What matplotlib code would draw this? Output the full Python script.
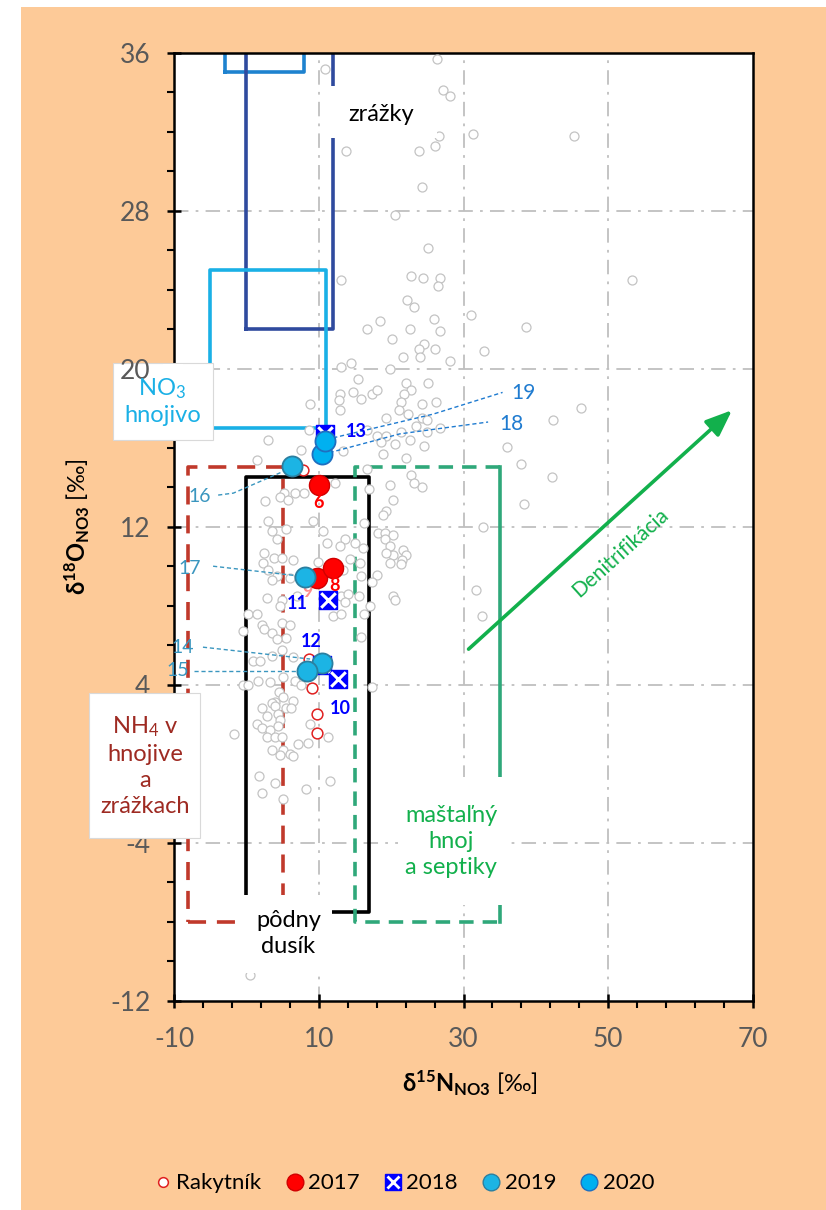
import matplotlib
matplotlib.use("Agg")
import matplotlib.pyplot as plt
from matplotlib.patches import Rectangle
from matplotlib.lines import Line2D
from matplotlib.ticker import FixedLocator, MultipleLocator

plt.rcParams['font.family'] = ['Lato', 'DejaVu Sans']
plt.rcParams['mathtext.fontset'] = 'custom'
plt.rcParams['mathtext.rm'] = 'Lato'
plt.rcParams['mathtext.bf'] = 'Lato:bold'
plt.rcParams['mathtext.it'] = 'Lato:italic'
plt.rcParams['mathtext.fallback'] = 'stixsans'
plt.rcParams['axes.unicode_minus'] = False

# --- literature data (grey open circles) ---
lit_x = [10.9, 26.3, 27.1, 28.1, 13.7, 23.9, 26.1, 26.6, 31.3, 45.2, 24.2, 20.5, 25.1,
         13.1, 22.8, 24.4, 26.7, 26.5, 53.3, 22.2, 23.2, 31.0, 25.9, 18.4, 16.6, 22.6,
         26.8, 38.6, 20.1, 24.5, 23.9, 26.0, 21.6, 24.0, 32.9, 28.1, 14.4, 13.1, 19.8,
         15.4, 22.1, 25.1, 22.8, 21.8, 14.7, 12.9, 12.8, 17.3, 18.0, 15.9, 21.4, 24.2,
         26.2, 8.8, 12.9, 21.1, 22.3, 24.2, 19.3, 24.9, 23.5, 26.7, 16.6, 18.0, 19.3,
         21.4, 25.0, 8.7, 3.0, 18.6, 22.6, 20.5, 24.6, 18.9, 7.6, 13.4, 1.4, 22.0,
         36.0, 38.0, 16.6, 22.8, 24.2, 23.2, 19.9, 16.9, 12.3, 5.2, 6.7, 7.9, 4.6,
         2.6, 5.8, 20.2, 38.4, 19.3, 18.9, 3.0, 9.2, 16.3, 32.7, 3.5, 5.5, 4.2,
         10.6, 13.6, 15.0, 18.2, 19.2, 20.2, 19.1, 11.2, 12.9, 16.1, 19.8, 21.6, 20.2,
         22.1, 19.3, 2.4, 3.8, 4.9, 6.4, 9.9, 14.3, 15.7, 13.3, 21.5, 21.4, 19.8,
         2.3, 3.0, 4.2, 3.5, 6.0, 15.9, 18.0, 17.4, 31.75, 2.8, 4.9, 4.6, 7.0,
         13.1, 14.0, 15.6, 13.6, 17.1, 20.3, 20.5, 32.6, 0.25, 1.4, 16.3, 12.0, 13.1,
         46.2, 42.4, 42.2,
         -0.4, 2.1, 2.4, 3.6, 4.9, 6.0, 5.5, 4.2, 15.8, 0.9, 1.9, 3.5, 4.9, 6.5,
         1.6, -0.4, 0.25, 3.3, 5.1, 6.7, 7.6, 4.5, 5.1, 6.5, 3.9, 3.5, 2.1, 3.9,
         5.5, 6.2, 4.4, 2.8, 4.6, 1.4, 2.1, 3.2, 4.4, 8.8, -1.7, 2.8, 3.9, 4.9,
         11.3, 7.1, 8.5, 3.5, 5.1, 6.0, 4.6, 6.5, 1.7, 3.9, 11.6, 8.2, 2.1, 5.0,
         17.3, 0.5]
lit_y = [35.2, 35.7, 34.1, 33.8, 31.0, 31.0, 31.3, 31.8, 31.9, 31.8, 29.2, 27.8, 26.1,
         24.5, 24.7, 24.6, 24.6, 24.2, 24.5, 23.5, 23.1, 22.7, 22.5, 22.4, 22.0, 22.0,
         21.9, 22.1, 21.5, 21.25, 21.0, 21.0, 20.6, 20.6, 20.9, 20.4, 20.3, 20.1, 20.0,
         19.5, 19.3, 19.3, 18.9, 18.7, 18.8, 18.7, 18.4, 18.7, 18.9, 18.45, 18.3, 18.2,
         18.3, 18.2, 17.9, 17.9, 17.7, 17.5, 17.5, 17.4, 17.1, 17.0, 16.9, 16.6, 16.6,
         16.8, 16.8, 16.9, 16.4, 16.3, 16.4, 16.2, 16.1, 15.7, 15.9, 15.85, 15.4, 15.5,
         16.05, 15.2, 14.9, 14.6, 14.0, 14.2, 14.1, 13.9, 14.2, 13.7, 13.7, 13.7, 13.5,
         13.3, 13.35, 13.35, 13.15, 12.8, 12.6, 12.3, 12.3, 12.2, 12.0, 11.8, 11.9, 11.4,
         11.8, 11.4, 11.2, 11.7, 11.7, 11.6, 11.4, 11.2, 11.0, 10.9, 11.0, 10.8, 10.55,
         10.55, 10.65, 10.65, 10.4, 10.4, 10.3, 10.2, 10.35, 10.15, 9.8, 10.3, 10.1, 10.15,
         10.15, 9.8, 9.5, 9.3, 9.4, 9.5, 9.55, 9.2, 8.8, 8.4, 8.3, 8.0, 8.5,
         8.5, 8.6, 8.5, 8.2, 8.0, 8.5, 8.3, 7.5, 7.6, 7.6, 7.6, 7.5, 7.6,
         18.0, 17.4, 14.5,
         6.7, 7.0, 6.8, 6.6, 7.1, 7.0, 6.35, 6.3, 6.4, 5.2, 5.2, 5.45, 5.75, 5.4,
         4.2, 4.0, 4.0, 4.15, 4.4, 4.2, 4.0, 3.65, 3.4, 3.2, 3.1, 3.05, 2.8, 2.9,
         2.8, 2.8, 2.5, 2.4, 2.2, 2.0, 1.8, 1.7, 1.9, 2.0, 1.5, 1.35, 1.35, 1.35,
         1.35, 1.0, 1.05, 0.7, 0.7, 0.5, 0.45, 0.4, -0.6, -1.0, -0.9, -1.3, -1.5, -1.8,
         3.9, -10.7]

# --- Rakytník samples ---
rak_x = [7.8, 8.7, 9.1, 9.7, 9.7]
rak_y = [14.87, 5.3, 3.85, 2.5, 1.55]

y2017_x = [10.1, 9.8, 11.9]
y2017_y = [14.1, 9.4, 9.9]
y2017_lab = ['6', '', '8']
y2017_lab_x = [10.0, 9.8, 12.2]
y2017_lab_y = [13.2, 9.4, 9.0]

y2018_x = [12.7, 11.3, 10.5, 10.8]
y2018_y = [4.3, 8.3, 5.0, 16.7]
y2018_lab = ['10', '11', '12', '13']
y2018_lab_x = [13.0, 7.1, 9.0, 15.2]
y2018_lab_y = [2.8, 8.1, 6.2, 16.8]

y2019_x = [10.5, 8.4, 6.3, 8.07]
y2019_y = [5.1, 4.7, 15.07, 9.44]
y2019_lab = ['14', '15', '16', '17']
y2019_lab_x = [-8.75, -9.5, -6.45, -7.8]
y2019_lab_y = [5.9, 4.7, 13.55, 9.9]
y2019_lead_x = [[-6.0, 8.8], [-7.3, 7.4], [-3.9, -1.8, 5.1], [-4.6, 7.4]]
y2019_lead_y = [[5.9, 5.3], [4.7, 4.7], [13.6, 13.7, 14.8], [10.0, 9.5]]

y2020_x = [10.4, 10.8]
y2020_y = [15.67, 16.35]
y2020_lab = ['18', '19']
y2020_lab_x = [36.6, 38.3]
y2020_lab_y = [17.2, 18.75]
y2020_lead_x = [[11.5, 21.2, 33.4], [12.0, 25.8, 35.4]]
y2020_lead_y = [[15.75, 16.7, 17.3], [16.5, 17.7, 18.8]]

x_ticks = [-10, 10, 30, 50, 70]
y_ticks = [-12, -4, 4, 12, 20, 28, 36]

# source areas (x0, x1, y0, y1)
rain_box = (0, 12, 22, 37)
rain_box2 = (-3, 8, 35, 37)
no3_box = (-5, 11, 17, 25)
nh4_box = (-8, 5, -8, 15)
soil_box = (0, 17, -7.5, 14.5)
manure_box = (15, 35, -8, 15)
denit = ((30.7, 5.8), (67.1, 17.9))

PEACH = '#FDCA98'
GREY = '#C3C3C3'
RED = '#FF0000'
BLUE = '#0000FF'
TEAL = '#3A96BF'
BLUE2 = '#1F7BD0'
GREEN = '#12B04C'
GREEN2 = '#2FA87A'
DRED = '#C0392B'

fig = plt.figure(figsize=(8.26, 12.10), dpi=100)
fig.patches.append(Rectangle((21 / 826, 0), 1 - 21 / 826, 1 - 7 / 1210,
                             transform=fig.transFigure, facecolor=PEACH,
                             edgecolor='none', zorder=-10))
ax = fig.add_axes([174 / 826, 1 - 1000.7 / 1210, 579 / 826, 948 / 1210])
ax.set_facecolor('white')
ax.set_xlim(-10, 70)
ax.set_ylim(-12, 36)

ax.xaxis.set_major_locator(FixedLocator(x_ticks))
ax.xaxis.set_minor_locator(FixedLocator(list(range(-10, 71, 4))))
ax.yaxis.set_major_locator(FixedLocator(y_ticks))
ax.yaxis.set_minor_locator(MultipleLocator(2))
ax.tick_params(which='major', direction='inout', length=10, width=1.8,
               labelsize=19, labelcolor='#595959')
ax.tick_params(axis='x', which='major', pad=14)
ax.tick_params(axis='y', which='major', pad=12)
ax.tick_params(which='minor', direction='out', length=5, width=1.5)
for s in ax.spines.values():
    s.set_linewidth(1.8)
ax.yaxis.set_zorder(2.7)

# dash-dot grid
grid_ls = (0, (8, 4, 1.5, 4))
for v in x_ticks[1:-1]:
    ax.axvline(v, color='#BFBFBF', lw=1.3, ls=grid_ls, zorder=0.6)
for v in y_ticks[1:-1]:
    ax.axhline(v, color='#BFBFBF', lw=1.3, ls=grid_ls, zorder=0.6)


def box(b, color, ls='-', solid_right=False):
    x0, x1, y0, y1 = b
    if solid_right:
        ax.plot([x1, x0, x0, x1], [y1, y1, y0, y0], color=color, lw=2.6, ls=ls, zorder=2)
        ax.plot([x1, x1], [y0, y1], color=color, lw=2.6, zorder=2)
    else:
        ax.plot([x0, x1, x1, x0, x0], [y0, y0, y1, y1, y0], color=color, lw=2.6,
                ls=ls, zorder=2)


box(rain_box2, '#1E82CF')
box(rain_box, '#2F4A9E')
box(no3_box, '#1AB0E6')
box(nh4_box, DRED, ls=(0, (5, 3)))
box(soil_box, 'black')
box(manure_box, GREEN2, ls=(0, (4, 2.5)), solid_right=True)

ax.annotate('', xy=denit[1], xytext=denit[0],
            arrowprops=dict(arrowstyle='-|>,head_length=0.8,head_width=0.32',
                            color=GREEN, lw=2.6, shrinkA=0, shrinkB=0,
                            mutation_scale=20), zorder=3)
ax.text(51.7, 10.7, 'Denitrifikácia', color=GREEN, fontsize=15, rotation=42,
        rotation_mode='anchor', ha='center', va='center', zorder=3)


def label_box(x0, x1, y0, y1, edge='none', z=6):
    ax.add_patch(Rectangle((x0, y0), x1 - x0, y1 - y0, facecolor='white',
                           edgecolor=edge, lw=0.8, zorder=z, clip_on=False))


label_box(11.5, 26.4, 31.7, 34.3)
ax.text(18.6, 32.85, 'zrážky', fontsize=17, ha='center', va='center', zorder=7)
label_box(-18.4, -4.6, 16.4, 20.3, edge='#D9D9D9', z=2.6)
label_box(-11.5, -8.7, 16.45, 20.25, z=2.8)  # hide ticks behind the label
ax.text(-11.6, 18.35, 'NO$_3$\nhnojivo', color='#1AB0E6', fontsize=17, ha='center',
        va='center', linespacing=1.25, zorder=7, clip_on=False)
label_box(-21.7, -6.4, -3.76, 3.6, edge='#D9D9D9')
ax.text(-14.0, -0.1, 'NH$_4$ v\nhnojive\na\nzrážkach', color='#9E2A22', fontsize=17,
        ha='center', va='center', linespacing=1.3, zorder=7, clip_on=False)
label_box(-0.5, 11.8, -10.6, -6.65)
ax.text(5.8, -8.6, 'pôdny\ndusík', fontsize=17, ha='center', va='center',
        linespacing=1.3, zorder=7)
label_box(21.0, 36.0, -7.15, -0.67)
ax.text(28.3, -3.95, 'maštaľný\nhnoj\na septiky', color=GREEN, fontsize=17,
        ha='center', va='center', linespacing=1.3, zorder=7)

ax.scatter(lit_x, lit_y, s=42, facecolor='white', edgecolor=GREY, lw=0.9, zorder=3)
ax.scatter(rak_x, rak_y, s=60, facecolor='white', edgecolor='#E02020', lw=1.1, zorder=4)
ax.scatter(y2018_x, y2018_y, s=150, marker='s', color=BLUE, zorder=4)
ax.scatter(y2018_x, y2018_y, s=110, marker='x', color='white', lw=2.2, zorder=4)
ax.scatter(y2017_x, y2017_y, s=210, color=RED, edgecolor='#D00000', lw=1, zorder=5)
ax.scatter(y2019_x, y2019_y, s=210, color='#1CB4E4', edgecolor='#2B7FA0', lw=1.3, zorder=5)
ax.scatter(y2020_x, y2020_y, s=210, color='#00B0F0', edgecolor='#1F6FC0', lw=1.3, zorder=5)

for lx, ly, t in zip(y2017_lab_x, y2017_lab_y, y2017_lab):
    ax.text(lx, ly, t, color=RED, fontsize=13, fontweight='bold', ha='center',
            va='center', zorder=6)
ax.text(8.4, 8.7, '9', color='#FF8C8C', fontsize=13, fontweight='bold', ha='center',
        va='center', zorder=4)
for lx, ly, t in zip(y2018_lab_x, y2018_lab_y, y2018_lab):
    ax.text(lx, ly, t, color=BLUE, fontsize=13, fontweight='bold', ha='center',
            va='center', zorder=6)
for xs, ys in zip(y2019_lead_x, y2019_lead_y):
    ax.plot(xs, ys, color=TEAL, lw=1, ls=(0, (3, 2)), zorder=4, clip_on=False)
for lx, ly, t in zip(y2019_lab_x, y2019_lab_y, y2019_lab):
    ax.text(lx, ly, t, color=TEAL, fontsize=14, ha='center', va='center', zorder=7,
            clip_on=False)
for xs, ys in zip(y2020_lead_x, y2020_lead_y):
    ax.plot(xs, ys, color=BLUE2, lw=1, ls=(0, (3, 2)), zorder=4)
for lx, ly, t in zip(y2020_lab_x, y2020_lab_y, y2020_lab):
    ax.text(lx, ly, t, color=BLUE2, fontsize=15, ha='center', va='center', zorder=7)

ax.set_xlabel(r'$\mathbf{δ^{15}N_{NO3}}$ [‰]', fontsize=17)
ax.xaxis.set_label_coords(0.511, -0.071)
ax.set_ylabel(r'$\mathbf{δ^{18}O_{NO3}}$ [‰]', fontsize=17)
ax.yaxis.set_label_coords(-0.142, 0.5)

handles = [
    Line2D([], [], ls='none', marker='o', ms=7, mfc='white', mec='#E02020', mew=1.1),
    Line2D([], [], ls='none', marker='o', ms=12, mfc=RED, mec='#D00000'),
    (Line2D([], [], ls='none', marker='s', ms=11, mfc=BLUE, mec=BLUE),
     Line2D([], [], ls='none', marker='x', ms=9, mec='white', mew=2)),
    Line2D([], [], ls='none', marker='o', ms=12, mfc='#1CB4E4', mec='#2B7FA0'),
    Line2D([], [], ls='none', marker='o', ms=12, mfc='#00B0F0', mec='#1F6FC0'),
]
fig.legend(handles, ['Rakytník', '2017', '2018', '2019', '2020'], loc='center',
           bbox_to_anchor=(0.488, 0.022), ncol=5, frameon=False, fontsize=16,
           handletextpad=0.1, columnspacing=1.0, handlelength=1.0)

fig.savefig('out.png', dpi=100)
